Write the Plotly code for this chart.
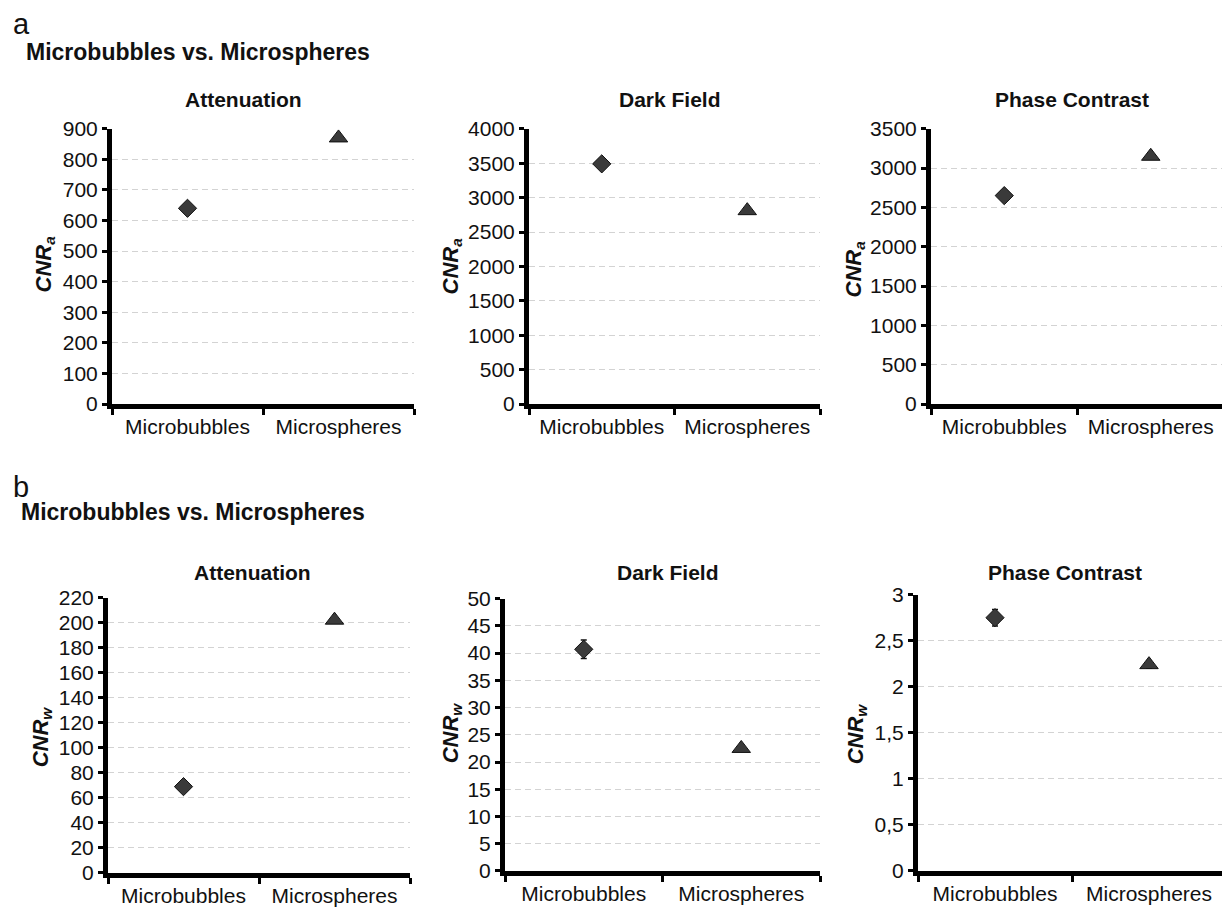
import plotly.graph_objects as go

# ---------------- data ----------------
categories = ["Microbubbles", "Microspheres"]
panel_titles = ["Attenuation", "Dark Field", "Phase Contrast"]

# row a: CNR_a
cnra_attenuation = [640, 870]
cnra_darkfield = [3490, 2810]
cnra_phase = [2650, 3150]

# row b: CNR_w (with error)
cnrw_attenuation = [69, 202]
cnrw_attenuation_err = [0, 0]
cnrw_darkfield = [40.7, 22.5]
cnrw_darkfield_err = [1.7, 0.0]
cnrw_phase = [2.75, 2.24]
cnrw_phase_err = [0.09, 0.04]

phase_w_tickvals = [0, 0.5, 1, 1.5, 2, 2.5, 3]
phase_w_ticktext = ["0", "0,5", "1", "1,5", "2", "2,5", "3"]

# ---------------- layout helpers ----------------
W, H = 1230, 909
FONT = "Liberation Sans, Arial, sans-serif"

# empirical page-offset compensation (rendered = OFF + SCALE * layout)
OFF_X, OFF_Y, SCALE_Y = 6.0, 18.0, 0.977


def px_x(x):
    return (x - OFF_X) / W


def px_y(y):
    return 1 - (y - OFF_Y) / (SCALE_Y * H)


panels = [
    dict(vals=cnra_attenuation, err=None, yr=[0, 900], dt=100, x=(110, 412), y=(127, 403),
         title=panel_titles[0], tx=241, ty=98, lab="a", lx=43, ly=263),
    dict(vals=cnra_darkfield, err=None, yr=[0, 4000], dt=500, x=(527, 818), y=(127, 403),
         title=panel_titles[1], tx=668, ty=98, lab="a", lx=450, ly=265),
    dict(vals=cnra_phase, err=None, yr=[0, 3500], dt=500, x=(929, 1222), y=(127, 403),
         title=panel_titles[2], tx=1070, ty=98, lab="a", lx=853, ly=268),
    dict(vals=cnrw_attenuation, err=cnrw_attenuation_err, yr=[0, 220], dt=20, x=(106, 408), y=(597, 873),
         title=panel_titles[0], tx=250, ty=572, lab="w", lx=40, ly=737),
    dict(vals=cnrw_darkfield, err=cnrw_darkfield_err, yr=[0, 50], dt=5, x=(503, 818), y=(598, 871),
         title=panel_titles[1], tx=666, ty=572, lab="w", lx=450, ly=733),
    dict(vals=cnrw_phase, err=cnrw_phase_err, yr=[0, 3], dt=0.5, x=(916, 1224), y=(594, 871),
         title=panel_titles[2], tx=1063, ty=572, lab="w", lx=855, ly=733),
]

fig = go.Figure()
annotations = []

for i, p in enumerate(panels):
    n = i + 1
    xa = "x" if n == 1 else f"x{n}"
    ya = "y" if n == 1 else f"y{n}"
    err = None
    if p["err"] is not None:
        err = dict(type="data", array=p["err"], visible=True, color="#111111",
                   thickness=1.5, width=3)
    fig.add_trace(go.Scatter(
        x=categories, y=p["vals"], mode="markers",
        xaxis=xa, yaxis=ya, showlegend=False, cliponaxis=False,
        error_y=err,
        marker=dict(symbol=["diamond", "triangle-up"], size=[14, 16],
                    color="#3a3a3a", opacity=1, line=dict(color="#111111", width=1)),
    ))
    xkey = "xaxis" if n == 1 else f"xaxis{n}"
    ykey = "yaxis" if n == 1 else f"yaxis{n}"
    yaxis = dict(
        domain=[px_y(p["y"][1]), px_y(p["y"][0])], range=p["yr"], anchor=xa,
        showline=True, linecolor="black", linewidth=5,
        ticks="outside", ticklen=5, tickwidth=3, tickcolor="black",
        showgrid=True, gridcolor="#d3d3d3", gridwidth=1, griddash="6px,4px",
        zeroline=False, tickfont=dict(family=FONT, size=21, color="#111111"),
        fixedrange=True,
    )
    if n == 6:
        yaxis.update(tickmode="array", tickvals=phase_w_tickvals, ticktext=phase_w_ticktext)
    else:
        yaxis.update(tickmode="linear", tick0=0, dtick=p["dt"])
    fig.update_layout({
        xkey: dict(
            domain=[px_x(p["x"][0]), px_x(p["x"][1])], anchor=ya,
            type="category", range=[-0.5, 1.5], tickson="boundaries",
            showline=True, linecolor="black", linewidth=5,
            ticks="outside", ticklen=6, tickwidth=3, tickcolor="black",
            showgrid=False, zeroline=False,
            tickfont=dict(family=FONT, size=21, color="#111111"),
            fixedrange=True,
        ),
        ykey: yaxis,
    })
    annotations.append(dict(
        x=px_x(p["tx"]), y=px_y(p["ty"]), xref="paper", yref="paper",
        text=f"<b>{p['title']}</b>", showarrow=False, xanchor="center", yanchor="middle",
        font=dict(family=FONT, size=21, color="#111111"),
    ))
    annotations.append(dict(
        x=px_x(p["lx"]), y=px_y(p["ly"]), xref="paper", yref="paper",
        text=f"<b><i>CNR<sub>{p['lab']}</sub></i></b>", showarrow=False,
        textangle=-90, xanchor="center", yanchor="middle",
        font=dict(family=FONT, size=22, color="#111111"),
    ))

# panel letters & headings
for letter, ly, hy, hx in [("a", 22, 50, 22), ("b", 486, 511, 17)]:
    annotations.append(dict(
        x=px_x(9), y=px_y(ly), xref="paper", yref="paper", text=letter,
        showarrow=False, xanchor="left", yanchor="middle",
        font=dict(family=FONT, size=29, color="#111111"),
    ))
    annotations.append(dict(
        x=px_x(hx), y=px_y(hy), xref="paper", yref="paper",
        text="<b>Microbubbles vs. Microspheres</b>",
        showarrow=False, xanchor="left", yanchor="middle",
        font=dict(family=FONT, size=23, color="#111111"),
    ))

fig.update_layout(
    width=W, height=H, margin=dict(l=0, r=0, t=0, b=0),
    paper_bgcolor="white", plot_bgcolor="white",
    annotations=annotations, showlegend=False,
)

fig.write_html("out.html")
